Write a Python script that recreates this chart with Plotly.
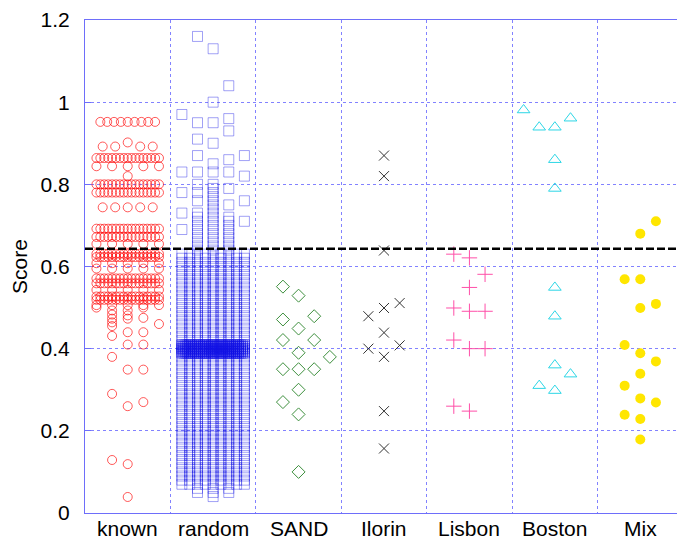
import plotly.graph_objects as go

# ---------------- data ----------------
categories = ["known", "random", "SAND", "Ilorin", "Lisbon", "Boston", "Mix"]
threshold = 0.643

# known: rows of many overlapping points + individual points
known_row_scores = [0.952, 0.902, 0.892, 0.864, 0.844, 0.82, 0.80, 0.78, 0.744,
                    0.692, 0.672, 0.655, 0.631, 0.623, 0.608, 0.595, 0.571,
                    0.559, 0.543, 0.527, 0.519, 0.506]
known_row_patterns = ["nine", "single", "four", "dense", "five", "single", "dense",
                      "dense", "fiven", "dense", "dense", "five", "dense", "dense",
                      "five", "five", "dense", "dense", "five", "dense", "dense", "five"]
known_scores = [0.50, 0.50,
                0.493, 0.483, 0.473, 0.464, 0.455, 0.431, 0.38, 0.29, 0.129,
                0.493, 0.481, 0.473, 0.44, 0.41, 0.349, 0.26, 0.119, 0.039,
                0.475, 0.44, 0.41, 0.349, 0.27,
                0.46]
known_slots = [-2, 1,
               -1, -1, -1, -1, -1, -1, -1, -1, -1,
               0, 0, 0, 0, 0, 0, 0, 0, 0,
               1, 1, 1, 1, 1,
               2]

# random: a dense block, a dense band at 0.40 and individual points
random_block_scores = [0.07, 0.08, 0.09, 0.10, 0.11, 0.12, 0.13, 0.14, 0.15, 0.16,
                       0.17, 0.18, 0.19, 0.20, 0.21, 0.22, 0.23, 0.24, 0.25, 0.26,
                       0.27, 0.28, 0.29, 0.30, 0.31, 0.32, 0.33, 0.34, 0.35, 0.36,
                       0.37, 0.38, 0.39, 0.40, 0.41, 0.42, 0.43, 0.44, 0.45, 0.46,
                       0.47, 0.48, 0.49, 0.50, 0.51, 0.52, 0.53, 0.54, 0.55, 0.56,
                       0.57, 0.58, 0.59, 0.60, 0.61, 0.62, 0.63]
random_band_scores = [0.389, 0.393, 0.397, 0.401, 0.405, 0.409]
random_scores = [0.05, 0.06, 0.04, 0.05, 0.06, 0.05, 0.06,
                 0.69, 0.73, 0.78, 0.83, 0.97,
                 0.64, 0.65, 0.66, 0.67, 0.68, 0.69, 0.70, 0.71, 0.72, 0.73,
                 0.76, 0.78, 0.80, 0.83, 0.87, 0.91, 0.95, 1.16,
                 0.64, 0.65, 0.66, 0.67, 0.68, 0.69, 0.70, 0.71, 0.72, 0.73,
                 0.74, 0.75, 0.76, 0.77, 0.78, 0.79, 0.80,
                 0.83, 0.85, 0.90, 0.95, 1.00, 1.13,
                 0.64, 0.65, 0.66, 0.67, 0.68, 0.69, 0.70, 0.71, 0.72,
                 0.75, 0.79, 0.83, 0.86, 0.93, 0.96, 1.04,
                 0.71, 0.76, 0.82, 0.87]
random_slots = [-1, -1, 0, 0, 0, 1, 1,
                -2, -2, -2, -2, -2,
                -1, -1, -1, -1, -1, -1, -1, -1, -1, -1,
                -1, -1, -1, -1, -1, -1, -1, -1,
                0, 0, 0, 0, 0, 0, 0, 0, 0, 0,
                0, 0, 0, 0, 0, 0, 0,
                0, 0, 0, 0, 0, 0,
                1, 1, 1, 1, 1, 1, 1, 1, 1,
                1, 1, 1, 1, 1, 1, 1,
                2, 2, 2, 2]

sand_scores = [0.551, 0.529, 0.471, 0.479, 0.449, 0.421, 0.421, 0.39, 0.38,
               0.35, 0.35, 0.35, 0.30, 0.27, 0.24, 0.10]
sand_slots = [-1, 0, -1, 1, 0, -1, 1, 0, 2, -1, 0, 1, 0, -1, 0, 0]

ilorin_scores = [0.87, 0.82, 0.639, 0.511, 0.499, 0.479, 0.439, 0.408, 0.40,
                 0.38, 0.248, 0.157]
ilorin_slots = [0, 0, 0, 1, 0, -1, 0, 1, -1, 0, 0, 0]

lisbon_scores = [0.63, 0.621, 0.581, 0.549, 0.499, 0.491, 0.491, 0.421, 0.40,
                 0.40, 0.26, 0.248]
lisbon_slots = [-1, 0, 1, 0, -1, 0, 1, -1, 0, 1, -1, 0]

boston_scores = [0.981, 0.961, 0.939, 0.939, 0.86, 0.79, 0.549, 0.479, 0.36,
                 0.338, 0.31, 0.298]
boston_slots = [-2, 1, -1, 0, 0, 0, 0, 0, 0, 1, -1, 0]

mix_scores = [0.71, 0.68, 0.569, 0.569, 0.509, 0.499, 0.409, 0.389, 0.369,
              0.339, 0.31, 0.279, 0.269, 0.239, 0.229, 0.179]
mix_slots = [1, 0, -1, 0, 1, 0, -1, 0, 1, 0, -1, 0, 1, -1, 0, 0]

# ---------------- jitter layout (positions, not data) ----------------
SLOT_WIDTH = 0.183
PATTERNS = {
    "dense": [-2 + 0.25 * i for i in range(17)],
    "nine": [-1.75, -1.31, -0.875, -0.44, 0, 0.44, 0.875, 1.31, 1.75],
    "five": [-2, -1, 0, 1, 2],
    "fiven": [-1.6, -0.8, 0, 0.8, 1.6],
    "four": [-1.6, -0.8, 0.8, 1.6],
    "single": [0],
}
BLOCK_SLOTS = [-2, -1.5, -1, -0.5, 0, 0.5, 1, 1.5, 2]
BAND_SLOTS = [-2 + 0.125 * i for i in range(33)]


def xpos(cat_index, slots):
    return [cat_index + 0.5 + s * SLOT_WIDTH for s in slots]


# expand known rows
k_scores, k_slots = [], []
for sc, pat in zip(known_row_scores, known_row_patterns):
    for s in PATTERNS[pat]:
        k_scores.append(sc)
        k_slots.append(s)
k_scores += known_scores
k_slots += known_slots

r_scores, r_slots = [], []
for s in BLOCK_SLOTS:
    for sc in random_block_scores:
        r_scores.append(sc)
        r_slots.append(s)
for sc in random_band_scores:
    for s in BAND_SLOTS:
        r_scores.append(sc)
        r_slots.append(s)
r_scores += random_scores
r_slots += random_slots

series = [
    (0, k_slots, k_scores, dict(symbol="circle-open", size=9, color="rgba(255,0,0,0.65)",
                                line=dict(width=1, color="rgba(255,0,0,0.65)"))),
    (1, r_slots, r_scores, dict(symbol="square-open", size=10, color="rgba(20,20,230,0.4)",
                                line=dict(width=1, color="rgba(20,20,230,0.4)"))),
    (2, sand_slots, sand_scores, dict(symbol="diamond-open", size=10, color="#3d8f3d",
                                      line=dict(width=1, color="#3d8f3d"))),
    (3, ilorin_slots, ilorin_scores, dict(symbol="x-thin-open", size=10, color="#333333",
                                          line=dict(width=1, color="#333333"))),
    (4, lisbon_slots, lisbon_scores, dict(symbol="cross-thin-open", size=11, color="#ff4fa8",
                                          line=dict(width=1, color="#ff4fa8"))),
    (5, boston_slots, boston_scores, dict(symbol="triangle-up-open", size=11, color="#2cd6e6",
                                          line=dict(width=1, color="#2cd6e6"))),
    (6, mix_slots, mix_scores, dict(symbol="circle", size=10, color="#ffe600",
                                    line=dict(width=0))),
]

fig = go.Figure()
for idx, slots, scores, marker in series:
    fig.add_trace(go.Scatter(x=xpos(idx, slots), y=scores, mode="markers",
                             marker=marker, name=categories[idx],
                             showlegend=False, hoverinfo="skip"))

fig.add_hline(y=threshold, line=dict(color="black", width=2.5, dash="8px,3px"),
              layer="above")

# category labels under the axis
for i, name in enumerate(categories):
    fig.add_annotation(x=i + 0.5, xref="x", y=0, yref="paper", text=name,
                       showarrow=False, yanchor="middle", xanchor="center",
                       yshift=-15, font=dict(size=21))

FRAME = "rgb(110,110,250)"
GRID = "rgb(130,130,255)"
# the page adds an 8px body margin, so the figure is sized/offset to compensate
fig.update_layout(
    width=677, height=532,
    margin=dict(l=77, r=2, t=12, b=27, autoexpand=False),
    paper_bgcolor="white", plot_bgcolor="white",
    font=dict(family="Liberation Sans, Arial, sans-serif", size=21, color="black"),
    xaxis=dict(range=[0, 7], tickvals=[i + 0.5 for i in range(7)],
               showticklabels=False,
               showgrid=False, zeroline=False, showline=True, mirror=True,
               linecolor=FRAME, linewidth=1, ticks="", automargin=False,
               minor=dict(tick0=0, dtick=1, showgrid=True, gridcolor=GRID,
                          griddash="dot", gridwidth=1, ticks="")),
    yaxis=dict(range=[0, 1.2], tickvals=[0, 0.2, 0.4, 0.6, 0.8, 1.0, 1.2],
               ticktext=["0", "0.2", "0.4", "0.6", "0.8", "1", "1.2"],
               showgrid=True, gridcolor=GRID, griddash="dot", gridwidth=1,
               zeroline=False, showline=True, mirror="allticks", automargin=False,
               linecolor=FRAME, linewidth=1, ticks="inside", ticklen=6,
               tickcolor=FRAME, ticklabelstandoff=10, ticklabeloverflow="allow",
               title=dict(text="Score", font=dict(size=21), standoff=15)),
)

fig.write_html("out.html")
